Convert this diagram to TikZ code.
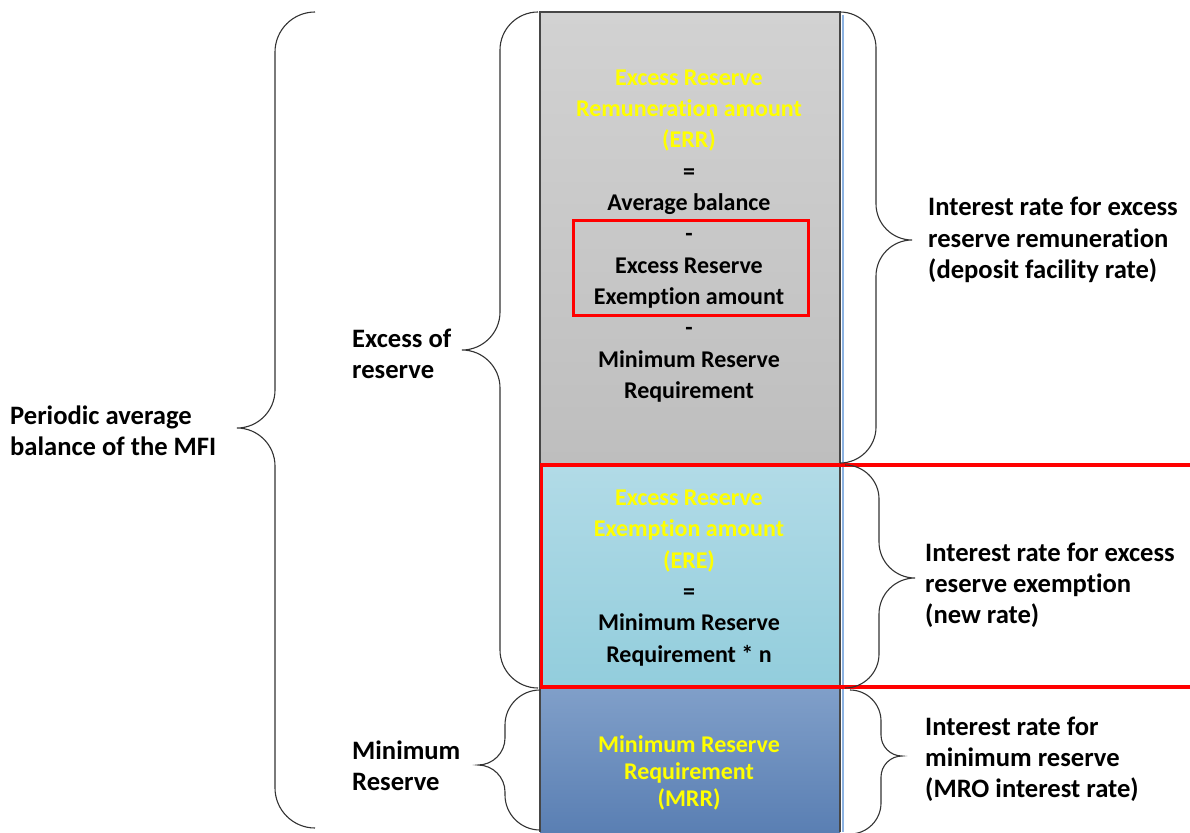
\documentclass[tikz,border=0pt]{standalone}
\usepackage{fontspec}
\setmainfont{Carlito}[Ligatures=NoCommon]
\usepackage{tikz}
\usetikzlibrary{positioning}
\definecolor{ylw}{RGB}{255,255,0}
\definecolor{redline}{RGB}{255,0,0}
\definecolor{edge}{RGB}{70,70,70}
\definecolor{sideblue}{RGB}{141,179,226}
\definecolor{grayT}{RGB}{210,210,210}
\definecolor{grayB}{RGB}{190,190,190}
\definecolor{lblueT}{RGB}{178,219,231}
\definecolor{lblueB}{RGB}{146,205,220}
\definecolor{blueT}{RGB}{128,159,201}
\definecolor{blueB}{RGB}{90,127,179}
\tikzset{x=1pt, y=-1pt}
\tikzset{lbl/.style={font=\fontsize{26.6}{31.2}\selectfont\bfseries, align=left, anchor=west, inner sep=0pt},
         mid/.style={font=\fontsize{24}{31.3}\selectfont\bfseries, align=center, inner sep=0pt},
         brace/.style={line width=1.1pt, black!80}}
% word style brace: ends x, line x, tip x, top y, tip y, bottom y
\newcommand{\wbrace}[6]{%
  \draw[brace] (#1,#4) .. controls ({#2+0.45*(#1-#2)},#4) and (#2,{#4+0.45*abs(#1-#2)}) .. (#2,{#4+abs(#1-#2)})
    -- (#2,{#5-abs(#3-#2)}) .. controls (#2,{#5-0.45*abs(#3-#2)}) and ({#3+0.55*(#2-#3)},#5) .. (#3,#5)
    .. controls ({#3+0.55*(#2-#3)},#5) and (#2,{#5+0.45*abs(#3-#2)}) .. (#2,{#5+abs(#3-#2)})
    -- (#2,{#6-abs(#1-#2)}) .. controls (#2,{#6-0.45*abs(#1-#2)}) and ({#2+0.45*(#1-#2)},#6) .. (#1,#6);}
\newcommand{\yl}[1]{\textcolor{ylw}{#1}}

\begin{document}
\begin{tikzpicture}
  \useasboundingbox (0,0) rectangle (1190,832);
  % column
  \shade[top color=grayT, bottom color=grayB] (540,12) rectangle (840,463);
  \shade[top color=lblueT, bottom color=lblueB] (540,463) rectangle (840,688);
  \shade[top color=blueT, bottom color=blueB] (540,688) rectangle (840,832);
  \draw[edge, line width=1.3pt] (540,832) -- (540,12) -- (840,12) -- (840,832);
  \draw[sideblue, line width=2pt] (843,15) -- (843,832);

  \node[mid] (G) at (689,236) {\yl{Excess Reserve}\\ \yl{Remuneration amount}\\ \yl{(ERR)}\\ =\\ Average balance\\ -\\ Excess Reserve\\ Exemption amount\\ -\\ Minimum Reserve\\ Requirement};
  \node[mid] (L) at (689,578) {\yl{Excess Reserve}\\ \yl{Exemption amount}\\ \yl{(ERE)}\\ =\\ Minimum Reserve\\ Requirement * n};
  \node[mid, font=\fontsize{24}{27}\selectfont\bfseries] (B) at (689,773) {\yl{Minimum Reserve}\\ \yl{Requirement}\\ \yl{(MRR)}};

  \draw[redline, line width=3pt] (573,220) rectangle (808,315);
  \draw[redline, line width=3.5pt] (1195,465) -- (541.5,465) -- (541.5,687) -- (1195,687);

  % braces
  \wbrace{315}{275}{237}{12}{428}{828}
  \wbrace{538}{500}{462}{12}{350}{688}
  \wbrace{540}{505}{478}{690}{765}{830}
  \wbrace{840}{876}{912}{12}{240}{463}
  \wbrace{845}{879}{915}{465}{578}{688}
  \wbrace{850}{881}{902}{690}{756}{834}

  % labels
  \node[lbl] (P) at (10,431) {Periodic average\\balance of the MFI};
  \node[lbl] (E) at (352,354) {Excess of\\reserve};
  \node[lbl] (M) at (352,766) {Minimum\\Reserve};
  \node[lbl] (R1) at (928,240) {Interest rate for excess\\reserve remuneration\\(deposit facility rate)};
  \node[lbl] (R2) at (925,585) {Interest rate for excess\\reserve exemption\\(new rate)};
  \node[lbl] (R3) at (925,759) {Interest rate for\\minimum reserve\\(MRO interest rate)};
\end{tikzpicture}
\end{document}
